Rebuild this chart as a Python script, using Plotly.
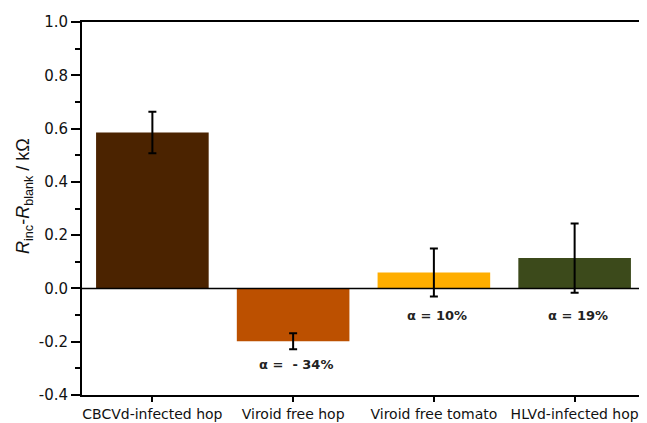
import plotly.graph_objects as go

categories = ["CBCVd-infected hop", "Viroid free hop", "Viroid free tomato", "HLVd-infected hop"]
values = [0.585, -0.198, 0.06, 0.114]
errors = [0.078, 0.03, 0.09, 0.13]
colors = ["#4B2300", "#BC5000", "#FFAE00", "#3C4A1B"]
alpha_labels = ["", "α =  - 34%", "α = 10%", "α = 19%"]
alpha_y = [None, -0.286, -0.10, -0.10]
y_ticks = [-0.4, -0.2, 0.0, 0.2, 0.4, 0.6, 0.8, 1.0]
y_ticktext = ["-0.4", "-0.2", "0.0", "0.2", "0.4", "0.6", "0.8", "1.0"]

FONT = "DejaVu Sans, Liberation Sans, Arial"

fig = go.Figure()
fig.add_trace(go.Bar(
    x=list(range(len(categories))), y=values,
    marker=dict(color=colors, line=dict(width=0)),
    width=0.8,
    error_y=dict(type="data", array=errors, visible=True, color="black", thickness=2, width=4),
    showlegend=False,
))

for i, (lab, ay) in enumerate(zip(alpha_labels, alpha_y)):
    if lab:
        fig.add_annotation(x=i, y=ay, text="<b>" + lab + "</b>", showarrow=False, xshift=3,
                           font=dict(size=13, color="#222222", family=FONT))

# y-axis title as annotation (placed slightly above plot centre, as in the reference)
fig.add_annotation(xref="paper", yref="paper", x=-0.101, y=0.534, textangle=-90, showarrow=False,
                   xanchor="center", yanchor="middle",
                   text="<i>R</i><sub>inc</sub>-<i>R</i><sub>blank</sub> / kΩ",
                   font=dict(size=18, color="#111111", family="Liberation Sans, Arial"))

fig.add_shape(type="line", xref="x", yref="y", x0=-0.5, x1=3.5, y0=0, y1=0,
              line=dict(color="black", width=1.5))

# page body has an 8px margin, so the figure is shrunk by 8px on each axis
fig.update_layout(
    width=639, height=415,
    margin=dict(l=74, r=0, t=14, b=28),
    plot_bgcolor="white", paper_bgcolor="white",
    font=dict(family=FONT, size=15, color="black"),
    bargap=0.2,
)
fig.update_xaxes(
    range=[-0.5, 3.5], tickmode="array", tickvals=list(range(len(categories))), ticktext=categories,
    showline=True, linecolor="black", linewidth=2, mirror=True,
    ticks="outside", ticklen=5, tickwidth=1.5, tickcolor="black",
    showgrid=False, zeroline=False, tickfont=dict(size=14, color="#111111"),
)
fig.update_yaxes(
    range=[-0.4, 1.0], tickmode="array", tickvals=y_ticks, ticktext=y_ticktext,
    showline=True, linecolor="black", linewidth=2, mirror=True,
    ticks="outside", ticklen=9, tickwidth=1.5, tickcolor="black",
    minor=dict(dtick=0.1, tick0=0, ticks="outside", ticklen=5, tickwidth=1.5, tickcolor="black"),
    showgrid=False, zeroline=False, tickfont=dict(size=15, color="#111111"),
)

fig.write_html("out.html")
